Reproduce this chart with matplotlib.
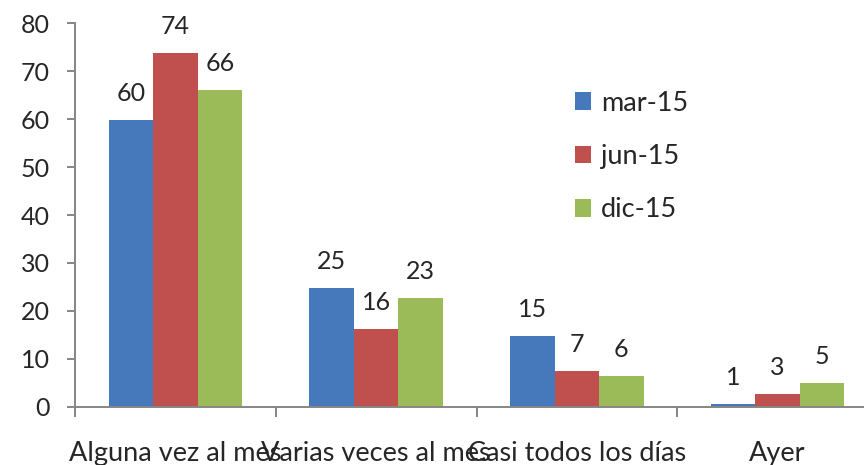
import numpy as np
import matplotlib.pyplot as plt

plt.rcParams['font.family'] = ['Lato', 'DejaVu Sans']

categories = ['Alguna vez al mes', 'Varias veces al mes', 'Casi todos los días', 'Ayer']
series = ['mar-15', 'jun-15', 'dic-15']
mar15 = [59.8, 24.7, 14.7, 0.6]
jun15 = [73.8, 16.2, 7.4, 2.65]
dic15 = [66.1, 22.6, 6.4, 4.9]
labels_mar = [60, 25, 15, 1]
labels_jun = [74, 16, 7, 3]
labels_dic = [66, 23, 6, 5]
colors = ['#4679BB', '#C0504D', '#9BBB59']

fig = plt.figure(figsize=(8.64, 4.65), dpi=100)
ax = fig.add_axes([75/864, 58.3/465, 803/864, 383.4/465])

x = np.arange(len(categories))
w = 0.664 / 3
axis_gray = '#868686'
txt = '#262626'
fs = 18
fs_big = 19.5

for i, (vals, labs) in enumerate(zip([mar15, jun15, dic15], [labels_mar, labels_jun, labels_dic])):
    pos = x + (i - 1) * w
    ax.bar(pos, vals, width=w, color=colors[i], label=series[i], zorder=2)
    for p, v, l in zip(pos, vals, labs):
        ax.annotate(str(l), (p, v), xytext=(0, 15), textcoords='offset pixels',
                    ha='center', va='bottom', fontsize=fs, color=txt)

ax.set_xlim(-0.5, len(categories) - 0.5)
ax.set_ylim(0, 80)
ax.set_yticks(range(0, 81, 10))
ax.set_xticks(x)
ax.set_xticklabels(categories)
ax.set_xticks(np.arange(-0.5, len(categories)), minor=True)

for s in ['top', 'right']:
    ax.spines[s].set_visible(False)
for s in ['left', 'bottom']:
    ax.spines[s].set_color(axis_gray)
    ax.spines[s].set_linewidth(1.4)

ax.tick_params(axis='y', length=6, width=1.4, color=axis_gray, pad=12, labelsize=fs, labelcolor=txt)
ax.tick_params(axis='x', which='major', length=0, pad=25, labelsize=fs_big, labelcolor=txt)
ax.tick_params(axis='x', which='minor', length=7, width=1.4, color=axis_gray)

ax.legend(loc='upper left', bbox_to_anchor=(561/864, 1 - 77/465), bbox_transform=fig.transFigure,
          frameon=False, fontsize=fs_big, handlelength=0.62, handleheight=0.62,
          handletextpad=0.35, labelspacing=1.05, borderpad=0, labelcolor=txt)

fig.savefig('out.png', dpi=100)
